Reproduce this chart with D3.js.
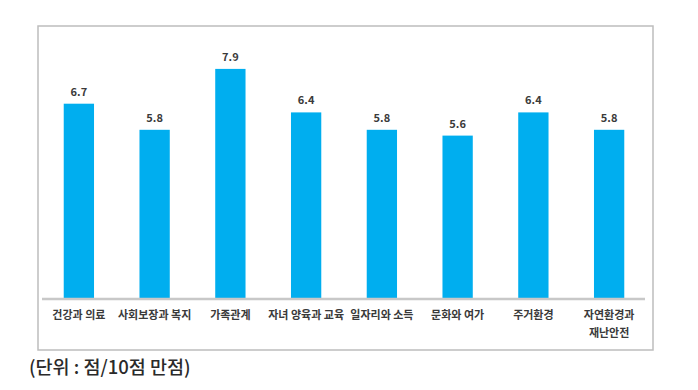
<!DOCTYPE html>
<html>
<head>
<meta charset="utf-8">
<script src="https://cdn.jsdelivr.net/npm/d3@7"></script>
<style>
  body { margin: 0; background: #fff; }
  text { font-family: "Noto Sans CJK KR", "Noto Sans", sans-serif; }
</style>
</head>
<body>
<script>
const w = 698;
const h = 390;

const categories = [
    ["건강과 의료"],
    ["사회보장과 복지"],
    ["가족관계"],
    ["자녀 양육과 교육"],
    ["일자리와 소득"],
    ["문화와 여가"],
    ["주거환경"],
    ["자연환경과", "재난안전"]
];
const values = [6.7, 5.8, 7.9, 6.4, 5.8, 5.6, 6.4, 5.8];
const unitLabel = "(단위 : 점/10점 만점)";

const svg = d3.select("body").append("svg").attr("width", w).attr("height", h);

// outer frame
svg.append("rect")
    .attr("x", 38)
    .attr("y", 26)
    .attr("width", 615)
    .attr("height", 324)
    .attr("fill", "none")
    .attr("stroke", "#bdbdbd")
    .attr("stroke-width", 1.5);

const xScale = d3.scaleBand()
    .domain(d3.range(values.length))
    .range([41, 647])
    .paddingInner(0.6)
    .paddingOuter(0.3);

const yScale = d3.scaleLinear()
    .domain([0, 10])
    .range([298, 8]);

svg.selectAll("rect.bar")
    .data(values)
    .enter()
    .append("rect")
    .attr("class", "bar")
    .attr("x", function (d, i) { return xScale(i); })
    .attr("y", function (d) { return yScale(d); })
    .attr("width", xScale.bandwidth())
    .attr("height", function (d) { return yScale(0) - yScale(d); })
    .attr("fill", "#00aeef");

// value labels
svg.selectAll("text.val")
    .data(values)
    .enter()
    .append("text")
    .attr("class", "val")
    .attr("x", function (d, i) { return xScale(i) + xScale.bandwidth() / 2; })
    .attr("y", function (d) { return yScale(d) - 8; })
    .attr("text-anchor", "middle")
    .attr("font-size", 11)
    .attr("font-weight", "bold")
    .attr("fill", "#3a3a3a")
    .text(function (d) { return d.toFixed(1); });

// x axis: gray line, no ticks
const xAxis = d3.axisBottom(xScale).tickSize(0).tickFormat("");
const gx = svg.append("g")
    .attr("transform", "translate(0," + yScale(0) + ")")
    .call(xAxis);
gx.select(".domain")
    .attr("stroke", "#c8c8c8")
    .attr("stroke-width", 2.5)
    .attr("d", "M42,1H645");

// category labels
const lab = svg.selectAll("text.cat")
    .data(categories)
    .enter()
    .append("text")
    .attr("class", "cat")
    .attr("x", function (d, i) { return xScale(i) + xScale.bandwidth() / 2; })
    .attr("y", 319)
    .attr("text-anchor", "middle")
    .attr("font-size", 11)
    .attr("font-weight", "bold")
    .attr("fill", "#3a3a3a");
lab.selectAll("tspan")
    .data(function (d) { return d; })
    .enter()
    .append("tspan")
    .attr("x", function () { return d3.select(this.parentNode).attr("x"); })
    .attr("dy", function (d, i) { return i === 0 ? 0 : 18; })
    .text(function (d) { return d; });

svg.append("text")
    .attr("x", 29)
    .attr("y", 374)
    .attr("font-size", 18.5)
    .attr("font-weight", "500")
    .attr("fill", "#2a2a2a")
    .text(unitLabel);
</script>
</body>
</html>
